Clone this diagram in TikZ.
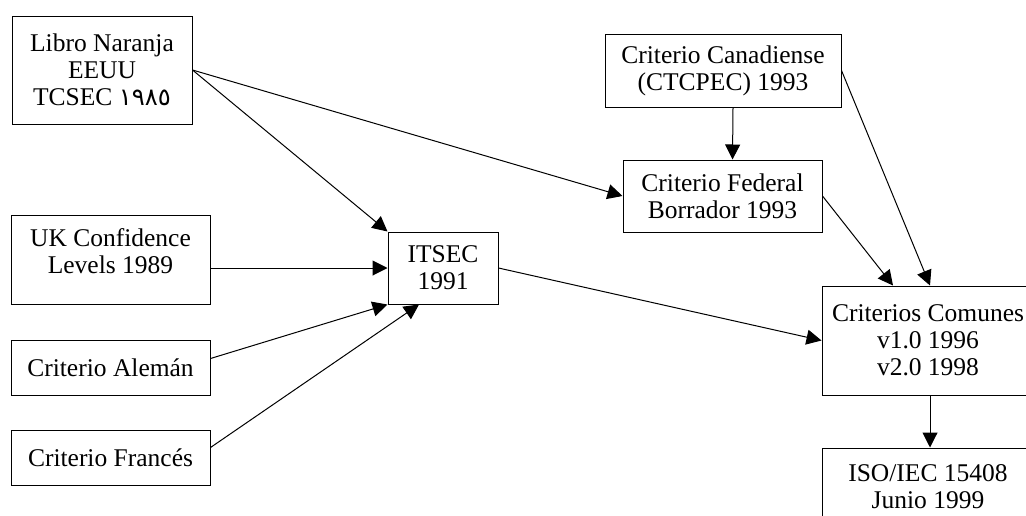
\documentclass[tikz,border=0pt]{standalone}
\usepackage{fontspec}
\setmainfont{Liberation Serif}
\newfontfamily\arabicfont[Script=Arabic,Scale=0.95]{DejaVu Sans}
\usetikzlibrary{arrows.meta}
\newcommand{\boxfont}{\fontsize{12.75pt}{13.5pt}\selectfont}
\begin{document}
\begin{tikzpicture}[x=0.5pt, y=-0.5pt,
    box/.style={draw, line width=0.5pt, align=center, inner sep=0pt, font=\boxfont},
    arr/.style={-{Triangle[length=7.5pt, width=7.5pt]}, line width=0.5pt}]
        % 1. Fix the page to the size of the scan
        \useasboundingbox (0,0) rectangle (1026,515);

        % 2. Left column of national criteria
        \node[box, minimum width=90pt, minimum height=54pt] (libro) at (102,70)
            {Libro Naranja\\EEUU\\TCSEC {\arabicfont ١٩٨٥}};
        \node[box, minimum width=99.5pt, minimum height=44.5pt] (uk) at (110.5,259.5)
            {UK Confidence\\Levels 1989\\[-5pt]\mbox{}};
        \foreach \name/\y/\txt in {aleman/367.5/Criterio Alemán, frances/457.5/Criterio Francés} {
            \node[box, minimum width=99.5pt, minimum height=27.5pt] (\name) at (110.5,\y) {\txt};
        }

        % 3. European and North American drafts
        \node[box, minimum width=55pt, minimum height=36pt] (itsec) at (443,268) {ITSEC\\1991};
        \node[box, minimum width=118pt, minimum height=36.5pt] (canad) at (723,70.5)
            {Criterio Canadiense\\(CTCPEC) 1993};
        \node[box, minimum width=99.5pt, minimum height=36pt] (federal) at (722.5,196)
            {Criterio Federal\\Borrador 1993};

        % 4. Common Criteria and ISO (cut by the right and bottom edge)
        \node[box, minimum width=106pt, minimum height=54.5pt] (comunes) at (928,340.5)
            {Criterios Comunes\\v1.0 1996\\v2.0 1998};
        \node[box, minimum width=106pt, minimum height=38.5pt] (iso) at (928,486.5)
            {ISO/IEC 15408\\Junio 1999};

        % 5. Arrows
        \draw[arr] (libro.east) -- (itsec.north west);
        \draw[arr] (libro.east) -- (federal.west);
        \draw[arr] (uk.east |- itsec.west) -- (itsec.west);
        \draw[arr] ([yshift=4.5pt]aleman.east) -- (itsec.south west);
        \draw[arr] ([yshift=5pt]frances.east) -- ([xshift=-12pt]itsec.south);
        \draw[arr] ([xshift=5pt]canad.south) -- ([xshift=5pt]federal.north);
        \draw[arr] (federal.east) -- ([xshift=-17.5pt]comunes.north);
        \draw[arr] (canad.east) -- ([xshift=1pt]comunes.north);
        \draw[arr] (itsec.east) -- (comunes.west);
        \draw[arr] ([xshift=1pt]comunes.south) -- ([xshift=1pt]iso.north);
    \end{tikzpicture}
\end{document}
